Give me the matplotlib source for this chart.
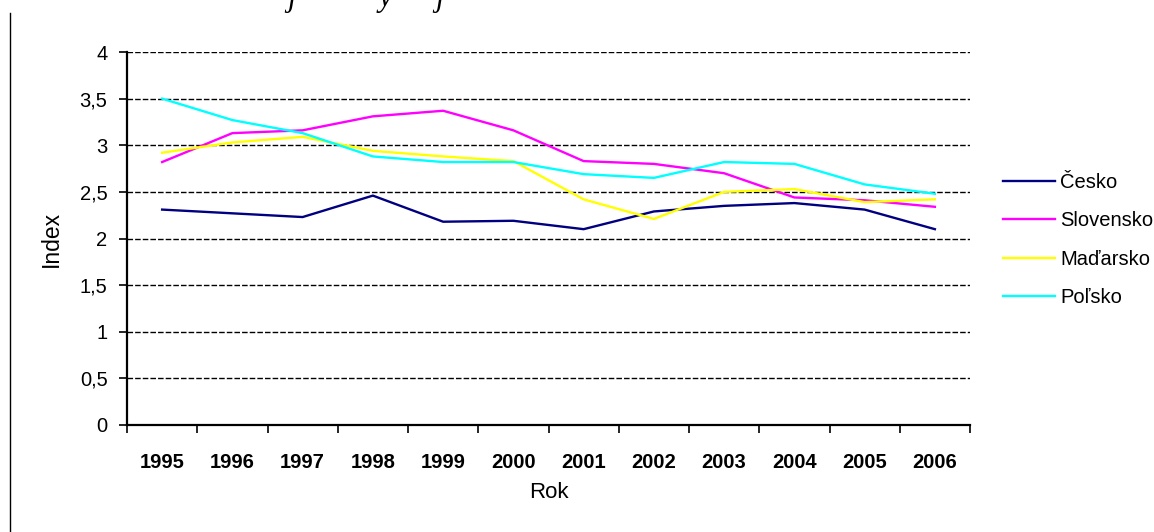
import matplotlib
matplotlib.use("Agg")
import matplotlib.pyplot as plt
from matplotlib.lines import Line2D
import numpy as np

years = ["1995", "1996", "1997", "1998", "1999", "2000", "2001", "2002", "2003", "2004", "2005", "2006"]
cesko = [2.31, 2.27, 2.23, 2.46, 2.18, 2.19, 2.10, 2.29, 2.35, 2.38, 2.31, 2.10]
slovensko = [2.82, 3.13, 3.16, 3.31, 3.37, 3.16, 2.83, 2.80, 2.70, 2.44, 2.41, 2.34]
madarsko = [2.92, 3.03, 3.09, 2.94, 2.88, 2.83, 2.42, 2.21, 2.50, 2.53, 2.39, 2.42]
polsko = [3.50, 3.27, 3.13, 2.88, 2.82, 2.82, 2.69, 2.65, 2.82, 2.80, 2.58, 2.48]
series_names = ["Česko", "Slovensko", "Maďarsko", "Poľsko"]
series_colors = ["#000080", "#FF00FF", "#FFFF00", "#00FFFF"]
yticks = [0, 0.5, 1, 1.5, 2, 2.5, 3, 3.5, 4]
ytick_labels = ["0", "0,5", "1", "1,5", "2", "2,5", "3", "3,5", "4"]

plt.rcParams['font.family'] = ['Liberation Sans', 'DejaVu Sans']

fig = plt.figure(figsize=(11.54, 5.32), dpi=100)
ax = fig.add_axes([127/1154, 107/532, (970-127)/1154, (425-52)/532])

x = np.arange(len(years))
for vals, name, col in zip([cesko, slovensko, madarsko, polsko], series_names, series_colors):
    ax.plot(x, vals, color=col, lw=1.7, label=name)

ax.set_xlim(-0.5, len(years) - 0.5)
ax.set_ylim(0, 4)
ax.set_yticks(yticks)
ax.set_yticklabels(ytick_labels, fontsize=14.5)
ax.set_xticks(x)
ax.set_xticklabels(years, fontsize=14.5, fontweight='bold')
ax.set_xticks(np.arange(-0.5, len(years), 1), minor=True)
ax.tick_params(axis='x', which='major', length=0, pad=20)
ax.tick_params(axis='x', which='minor', length=6, width=1.2, direction='out')
ax.tick_params(axis='y', length=6, width=1.2, direction='out', pad=8)

for yv in yticks[1:]:
    ax.axhline(yv, color='black', lw=1.0, ls=(0, (4, 1.5)), zorder=0)

for s in ['top', 'right']:
    ax.spines[s].set_visible(False)
ax.spines['left'].set_linewidth(1.6)
ax.spines['bottom'].set_linewidth(1.6)

ax.set_xlabel("Rok", fontsize=16, labelpad=7)
ax.set_ylabel("Index", fontsize=16.5, labelpad=12)

leg = ax.legend(loc='center left', bbox_to_anchor=(1003/1154, (532-240)/532), bbox_transform=fig.transFigure,
                frameon=False, fontsize=14.5, handlelength=2.6, handletextpad=0.25, labelspacing=0.95,
                borderpad=0, borderaxespad=0)

# vertical line at left edge of page
fig.add_artist(Line2D([10/1154, 10/1154], [0, 1 - 13/532], transform=fig.transFigure, color='black', lw=1))

# cut-off title text at top
for cx, ch in [(292, "j"), (385, "y"), (440, "j")]:
    fig.text(cx/1154, 1 - 6/532, ch, fontsize=22, style='italic', family='Liberation Serif',
             ha='center', va='baseline')

fig.savefig("out.png", dpi=100)
